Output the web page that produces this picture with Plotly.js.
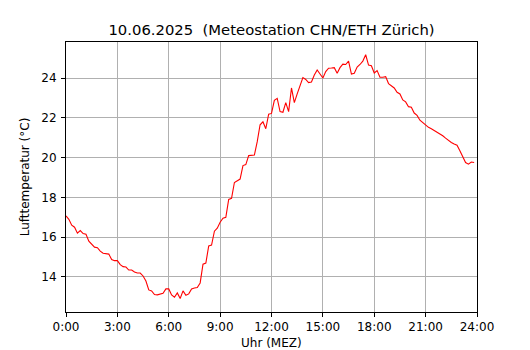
<!DOCTYPE html>
<html>
<head>
<meta charset="utf-8">
<script src="https://cdn.plot.ly/plotly-3.0.1.min.js"></script>
<style>html,body{margin:0;padding:0;background:#fff;}#chart{width:530px;height:350px;}</style>
</head>
<body>
<div id="chart"></div>
<script>
// 10-minute temperature readings, 00:00 .. 23:50
const stepMinutes = 10;
const temperature = [
17.07,16.90,16.60,16.50,16.20,16.33,16.18,16.15,15.80,15.65,15.50,15.47,
15.30,15.19,15.18,15.15,14.88,14.82,14.82,14.62,14.52,14.50,14.35,14.35,
14.25,14.20,14.20,14.05,13.80,13.35,13.30,13.12,13.10,13.15,13.18,13.40,
13.40,13.10,12.98,13.20,12.92,13.30,13.08,13.15,13.40,13.45,13.47,13.70,
14.64,14.70,15.56,15.60,16.30,16.45,16.75,16.95,17.00,17.90,17.95,18.75,
18.85,18.92,19.60,19.65,20.10,20.12,20.13,20.80,21.65,21.80,21.45,22.18,
22.22,22.88,22.98,22.31,22.28,22.76,22.31,23.50,22.76,23.20,23.60,24.02,
23.93,23.77,23.80,24.15,24.40,24.20,24.00,24.32,24.49,24.50,24.52,24.24,
24.52,24.70,24.68,24.85,24.20,24.24,24.55,24.68,24.85,25.17,24.65,24.62,
24.25,24.37,24.04,24.04,24.07,23.72,23.62,23.50,23.28,23.20,22.90,22.80,
22.56,22.53,22.24,22.12,21.88,21.75,21.63,21.52,21.45,21.37,21.29,21.20,
21.10,20.98,20.86,20.76,20.68,20.62,20.35,20.05,19.75,19.67,19.78,19.75
];
const tickHours = [0,3,6,9,12,15,18,21,24];
const tickLabels = ["0:00","3:00","6:00","9:00","12:00","15:00","18:00","21:00","24:00"];
const yTicks = [14,16,18,20,22,24];

const hours = temperature.map((_, i) => i * stepMinutes / 60);

const font = "DejaVu Sans, sans-serif";
const axisCommon = {
  showline: true, linecolor: "#000", linewidth: 1, mirror: true,
  ticks: "outside", ticklen: 4, tickwidth: 1, tickcolor: "#000",
  showgrid: true, gridcolor: "#b0b0b0", gridwidth: 1,
  zeroline: false,
  tickfont: {family: font, size: 12, color: "#000"}
};

const data = [{
  x: hours, y: temperature, type: "scatter", mode: "lines",
  line: {color: "#ff0000", width: 1.1}, hoverinfo: "skip"
}];

const layout = {
  width: 530, height: 350,
  margin: {l: 66, r: 53, t: 42, b: 38},
  paper_bgcolor: "#fff", plot_bgcolor: "#fff",
  showlegend: false,
  title: {
    text: "10.06.2025\u00a0\u00a0(Meteostation CHN/ETH Zürich)",
    font: {family: font, size: 14.8, color: "#000"},
    x: 0.5, xanchor: "center", xref: "paper",
    y: 0.915, yanchor: "middle", yref: "container"
  },
  xaxis: Object.assign({}, axisCommon, {
    range: [0, 24], tickvals: tickHours, ticktext: tickLabels
  }),
  yaxis: Object.assign({}, axisCommon, {
    range: [12.24, 25.81], tickvals: yTicks,
    ticklabelstandoff: 2,
    title: {text: "Lufttemperatur (°C)", font: {family: font, size: 12, color: "#000"}, standoff: 9}
  }),
  annotations: [{
    text: "Uhr (MEZ)", xref: "paper", yref: "paper",
    x: 0.5, y: -0.114, xanchor: "center", yanchor: "middle",
    borderpad: 0, showarrow: false, font: {family: font, size: 12, color: "#000"}
  }]
};

Plotly.newPlot("chart", data, layout, {staticPlot: true, displayModeBar: false});
</script>
</body>
</html>
